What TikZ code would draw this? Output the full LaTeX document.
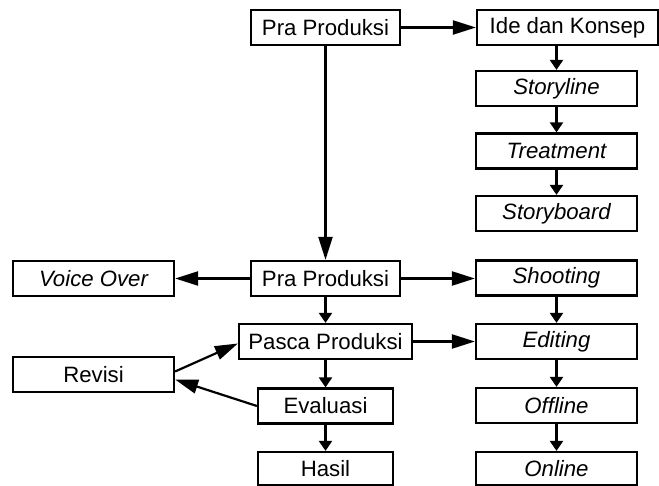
\documentclass[tikz,border=0pt]{standalone}
\usepackage{fontspec}
\setmainfont{Liberation Sans}
\usetikzlibrary{arrows.meta}
\begin{document}
\begin{tikzpicture}[x=1pt,y=-1pt,
  box/.style={draw, line width=2.2pt, minimum height=35pt, inner sep=0pt,
    font=\fontsize{22.2}{24}\selectfont},
  longarr/.style={line width=2.2pt, -{Triangle[length=23pt,width=14pt]}},
  shortarr/.style={line width=2.2pt, -{Triangle[length=10pt,width=13pt]}}]
\useasboundingbox (0,0) rectangle (659,486);
% left column
\node[box, minimum width=149pt] (praTop) at (325.5,27.5) {Pra Produksi};
\node[box, minimum width=149pt] (praMid) at (325.5,278.5) {Pra Produksi};
\node[box, minimum width=173pt] (pasca) at (325.5,341.5) {Pasca Produksi};
\node[box, minimum width=135pt] (evaluasi) at (325.5,406) {Evaluasi};
\node[box, minimum width=135pt, minimum height=33pt] (hasil) at (325.5,468.5) {Hasil};
\node[box, minimum width=161pt] (voice) at (93.5,278.5) {\itshape Voice Over};
\node[box, minimum width=161pt] (revisi) at (93.5,374.5) {Revisi};
% right column
\node[box, minimum width=181pt] (ide) at (567.5,27.5) {Ide dan Konsep};
\node[box, minimum width=161pt] (storyline) at (556.5,88.5) {\itshape Storyline};
\node[box, minimum width=161pt] (treatment) at (556.5,151) {\itshape Treatment};
\node[box, minimum width=161pt] (storyboard) at (556.5,213.5) {\itshape Storyboard};
\node[box, minimum width=161pt] (shooting) at (556.5,278) {\itshape Shooting};
\node[box, minimum width=161pt] (editing) at (556.5,341.5) {\itshape Editing};
\node[box, minimum width=161pt] (offline) at (556.5,405.5) {\itshape Offline};
\node[box, minimum width=161pt, minimum height=33pt] (online) at (556.5,468.5) {\itshape Online};
% arrows
\draw[longarr] (praTop) -- (ide);
\draw[shortarr] (storyline.north |- ide.south) -- (storyline.north);
\draw[shortarr] (storyline) -- (treatment);
\draw[shortarr] (treatment) -- (storyboard);
\draw[longarr] (praTop) -- (praMid);
\draw[longarr] (praMid) -- (voice);
\draw[longarr] (praMid) -- (shooting.west |- praMid.east);
\draw[shortarr] (shooting) -- (editing);
\draw[shortarr] (editing) -- (offline);
\draw[shortarr] (offline) -- (online);
\draw[shortarr] (praMid) -- (pasca);
\draw[shortarr] (pasca) -- (evaluasi);
\draw[shortarr] (evaluasi) -- (hasil);
\draw[longarr] (pasca) -- (editing);
\draw[longarr] ([yshift=3pt]revisi.east) -- ([yshift=-2pt]pasca.west);
\draw[longarr] (evaluasi.west) -- ([yshift=-5pt]revisi.east);
\end{tikzpicture}
\end{document}
